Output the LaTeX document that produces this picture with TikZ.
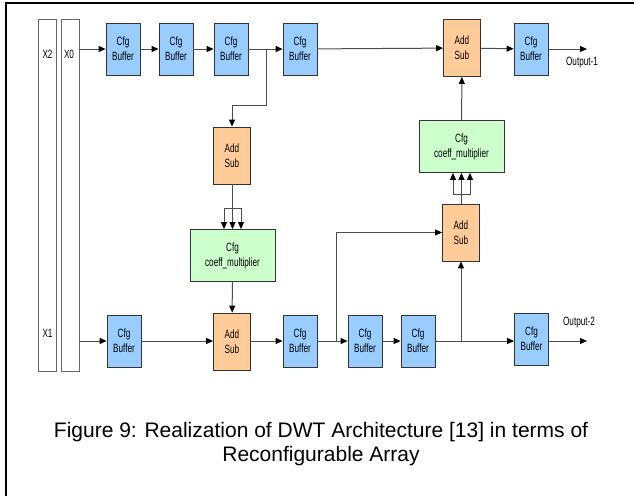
\documentclass[tikz,border=0pt]{standalone}
\usepackage{fontspec}
\setmainfont{Liberation Sans}
\newfontfamily\cellfont[FakeStretch=0.68]{Liberation Sans}
\usetikzlibrary{arrows.meta}
\definecolor{bufblue}{RGB}{153,204,255}
\definecolor{addorange}{RGB}{255,204,153}
\definecolor{mulgreen}{RGB}{204,255,204}
\tikzset{
	cell/.style={draw=black!80, line width=0.8pt, align=center, inner sep=0pt, font=\cellfont\fontsize{12}{15}\selectfont},
	buf/.style={cell, fill=bufblue, minimum width=34pt, minimum height=52pt},
	addsub/.style={cell, fill=addorange, minimum width=37pt, minimum height=57pt},
	mult/.style={cell, fill=mulgreen, minimum width=85pt, minimum height=52pt},
	col/.style={draw=black!60, line width=0.8pt, fill=white, minimum width=18pt, minimum height=352pt, inner sep=0pt},
	lbl/.style={font=\cellfont\fontsize{12}{15}\selectfont, inner sep=1pt},
	wire/.style={draw=black!70, line width=1pt},
	arr/.style={wire, -{Triangle[length=7pt,width=6pt,color=black]}}
}
\begin{document}
\begin{tikzpicture}[x=1pt,y=-1pt]
	\useasboundingbox (0,0) rectangle (634,496);
	\draw[line width=2.2pt] (6,496) -- (6,3) -- (634,3);
	\node[col] (x2) at (47.5,195) {};
	\node[col] (x0) at (70,195) {};
	\node[lbl] (lx2) at (47.5,54) {X2};
	\node[lbl] (lx0) at (69,54) {X0};
	\node[lbl] (lx1) at (47.5,333) {X1};
	\begin{scope}
		\node[buf] (tb1) at (123,49) {Cfg\\Buffer};
		\node[buf] (tb2) at (176,49) {Cfg\\Buffer};
		\node[buf] (tb3) at (231,49) {Cfg\\Buffer};
		\node[buf] (tb4) at (300,49) {Cfg\\Buffer};
		\node[addsub] (a4) at (462,48) {Add\\Sub};
		\node[buf] (tb5) at (531,49) {Cfg\\Buffer};
		\coordinate (out1) at (587,49);
		\node[lbl] (lout1) at (582,63) {Output-1};
		\draw[arr] (x0.east |- tb1) -- (tb1);
		\draw[arr] (tb1) -- (tb2);
		\draw[arr] (tb2) -- (tb3);
		\draw[arr] (tb3) -- (tb4);
		\draw[arr] (tb4) -- (a4);
		\draw[arr] (a4) -- (tb5);
		\draw[arr] (tb5) -- (out1);
	\end{scope}
	\begin{scope}
		\node[addsub] (a1) at (232,155.5) {Add\\Sub};
		\node[mult] (m1) at (232.5,255.5) {Cfg\\coeff\_multiplier};
		\node[addsub] (a2) at (232,341.5) {Add\\Sub};
		\coordinate (j1) at (266,49);
		\draw[arr] (j1) -- ++(0,56) -| (a1.north);
		\draw[wire] (a1.south) -- ++(0,24) coordinate (s1);
		\foreach \dx in {-8.5,0,8.5}
			\draw[arr] (s1) -| ([xshift=\dx]m1.north);
		\draw[arr] (m1) -- (a2);
	\end{scope}
	\begin{scope}
		\node[buf] (lb1) at (124,341) {Cfg\\Buffer};
		\node[buf] (lb2) at (300,341) {Cfg\\Buffer};
		\node[buf] (lb3) at (365,341) {Cfg\\Buffer};
		\node[buf] (lb4) at (418,341) {Cfg\\Buffer};
		\node[buf] (lb5) at (531.5,339) {Cfg\\Buffer};
		\coordinate (out2) at (587,341);
		\node[lbl] (lout2) at (579,323) {Output-2};
		\node[addsub] (a3) at (461,232.5) {Add\\Sub};
		\node[mult] (m2) at (461.5,146.5) {Cfg\\coeff\_multiplier};
		\draw[arr] (x0.east |- lb1) -- (lb1);
		\draw[arr] (lb1) -- (a2.west |- lb1);
		\draw[arr] (a2.east |- lb2) -- (lb2);
		\draw[arr] (lb2) -- (lb3);
		\draw[arr] (lb3) -- (lb4);
		\draw[arr] (lb4) -- (lb5.west |- lb4);
		\draw[arr] (lb5.east |- lb1) -- (out2);
		\coordinate (j2) at (336,341);
		\draw[arr] (j2) |- (a3.west);
		\coordinate (j3) at (a3 |- lb4);
		\draw[arr] (j3) -- (a3.south);
		\draw[wire] (a3.north) -- ++(0,-9) coordinate (s2);
		\foreach \dx in {-8.5,0,8.5}
			\draw[arr] (s2) -| ([xshift=\dx]m2.south);
		\draw[arr] (m2) -- (a4);
	\end{scope}
	\node[font=\fontsize{21}{24}\selectfont, align=center] (cap) at (321,444) {Figure 9: Realization of DWT Architecture [13] in terms of\\Reconfigurable Array};
\end{tikzpicture}
\end{document}
